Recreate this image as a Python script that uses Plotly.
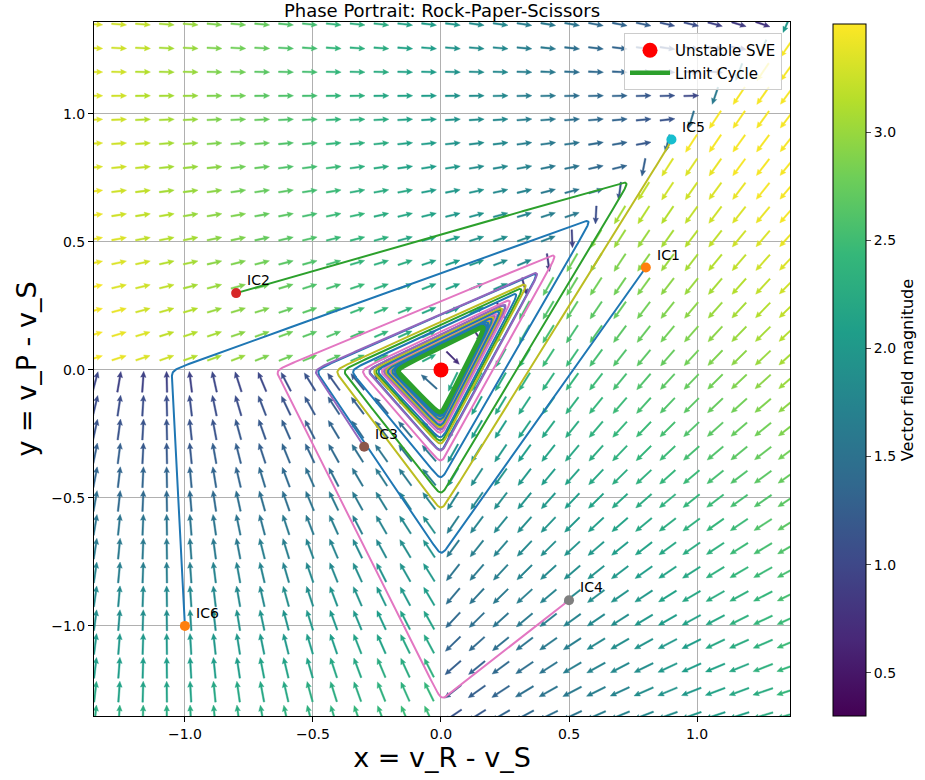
import numpy as np
import plotly.graph_objects as go
from plotly.colors import sample_colorscale, get_colorscale

# ---------------- values ----------------
ic_labels = ["IC1", "IC2", "IC3", "IC4", "IC5", "IC6"]
ic_x = [0.8, -0.8, -0.3, 0.5, 0.9, -1.0]
ic_y = [0.4, 0.3, -0.3, -0.9, 0.9, -1.0]
traj_colors = ["#1f77b4", "#2ca02c", "#9467bd", "#e377c2", "#bcbd22", "#1f77b4"]
marker_colors = ["#ff7f0e", "#d62728", "#8c564b", "#7f7f7f", "#17becf", "#ff7f0e"]
sve_x = [0.0]
sve_y = [0.0]
axis_ticks = [-1.0, -0.5, 0.0, 0.5, 1.0]
axis_ticktext = ["\u22121.0", "\u22120.5", "0.0", "0.5", "1.0"]
cbar_ticks = [0.5, 1.0, 1.5, 2.0, 2.5, 3.0]
cbar_range = [0.30, 3.50]
x_range = [-1.355, 1.363]
y_range = [-1.352, 1.359]

# game (rows / cols: R, P, S) and learning model parameters
payoff_win = 1.0
payoff_loss = -1.0
payoff_tie = 0.10
temperature = 0.007
quiver_n = 30
quiver_lim = 1.35
t_end = 30.0
dt = 0.003

A = np.array([[payoff_tie, payoff_win, payoff_loss],
              [payoff_loss, payoff_tie, payoff_win],
              [payoff_win, payoff_loss, payoff_tie]])


def policy(x, y, tau=temperature):
    v = np.stack([x, y, np.zeros_like(x)], axis=-1) / tau
    v = v - v.max(axis=-1, keepdims=True)
    e = np.exp(v)
    return e / e.sum(axis=-1, keepdims=True)


def field(x, y, tau=temperature):
    x = np.asarray(x, float)
    y = np.asarray(y, float)
    u = policy(x, y, tau) @ A.T
    return u[..., 0] - u[..., 2] - x, u[..., 1] - u[..., 2] - y


def integrate(x0, y0, t1, tau=temperature):
    x = np.array(x0, float)
    y = np.array(y0, float)
    n = int(round(t1 / dt))
    xs = [x.copy()]
    ys = [y.copy()]
    for _ in range(n):
        k1x, k1y = field(x, y, tau)
        k2x, k2y = field(x + 0.5 * dt * k1x, y + 0.5 * dt * k1y, tau)
        k3x, k3y = field(x + 0.5 * dt * k2x, y + 0.5 * dt * k2y, tau)
        k4x, k4y = field(x + dt * k3x, y + dt * k3y, tau)
        x = x + dt / 6 * (k1x + 2 * k2x + 2 * k3x + k4x)
        y = y + dt / 6 * (k1y + 2 * k2y + 2 * k3y + k4y)
        xs.append(x.copy())
        ys.append(y.copy())
    return np.array(xs), np.array(ys)


# plot-area geometry (pixels)
W, H = 925, 780
ml, mr, mt, mb = 94, 135, 22, 64
pw, ph = W - ml - mr, H - mt - mb
sx = pw / (x_range[1] - x_range[0])
sy = ph / (y_range[1] - y_range[0])

fig = go.Figure()

# colorbar carrier
fig.add_trace(go.Scatter(
    x=[0], y=[0], mode="markers", hoverinfo="skip", showlegend=False,
    marker=dict(size=1, opacity=0, color=[1.0], colorscale="Viridis",
                cmin=cbar_range[0], cmax=cbar_range[1], showscale=True,
                colorbar=dict(x=(833 - ml) / pw, xanchor="left", xref="paper", xpad=0,
                              y=1 - (24 - mt) / ph, yanchor="top", ypad=0,
                              len=692 / ph, lenmode="fraction",
                              thickness=33, outlinewidth=1, outlinecolor="black",
                              ticks="outside", ticklen=5, tickvals=cbar_ticks,
                              ticktext=[f"{t:.1f}" for t in cbar_ticks],
                              tickfont=dict(size=14, color="black"),
                              title=dict(text="Vector field magnitude", side="right",
                                         font=dict(size=16, color="black"))))))

# ---------------- quiver ----------------
g = np.linspace(-quiver_lim, quiver_lim, quiver_n)
X, Y = np.meshgrid(g, g)
U, V = field(X, Y)
M = np.hypot(U, V)
sigP = policy(X, Y)[..., 1].ravel()
dxu, dyu = (U / M).ravel(), (V / M).ravel()
cx, cy = X.ravel(), Y.ravel()
L = (21.0 - 6.0 * sigP)[:, None]
hw, hl, hal, hhw = 0.8, 6.0, 5.4, 2.7
zero = np.zeros_like(L)
along = np.hstack([-L / 2, L / 2 - hal, L / 2 - hl, L / 2, L / 2 - hl, L / 2 - hal, -L / 2])
across = np.array([hw, hw, hhw, 0.0, -hhw, -hw, -hw])[None, :] + zero
nxu, nyu = -dyu, dxu
px = cx[:, None] + (along * dxu[:, None] + across * nxu[:, None]) / sx
py = cy[:, None] + (along * dyu[:, None] + across * nyu[:, None]) / sy

nb = 48
tnorm = (np.clip(M.ravel(), *cbar_range) - cbar_range[0]) / (cbar_range[1] - cbar_range[0])
bins = np.minimum((tnorm * nb).astype(int), nb - 1)
vir = get_colorscale("Viridis")
for b in range(nb):
    idx = np.where(bins == b)[0]
    if idx.size == 0:
        continue
    col = sample_colorscale(vir, [(b + 0.5) / nb])[0]
    xs, ys = [], []
    for i in idx:
        xs.extend(px[i].tolist() + [px[i][0], None])
        ys.extend(py[i].tolist() + [py[i][0], None])
    fig.add_trace(go.Scatter(x=xs, y=ys, mode="lines", fill="toself", fillcolor=col,
                             line=dict(width=0.4, color=col), hoverinfo="skip",
                             showlegend=False))

# ---------------- trajectories ----------------
TX, TY = integrate(ic_x, ic_y, t_end)
for k in range(len(ic_x)):
    fig.add_trace(go.Scatter(x=TX[:, k], y=TY[:, k], mode="lines",
                             line=dict(color=traj_colors[k], width=2),
                             hoverinfo="skip", showlegend=False))
for k in range(len(ic_x)):
    fig.add_trace(go.Scatter(x=[ic_x[k]], y=[ic_y[k]], mode="markers",
                             marker=dict(color=marker_colors[k], size=10),
                             hoverinfo="skip", showlegend=False))
    fig.add_annotation(x=ic_x[k] + 0.035, y=ic_y[k] + 0.05, text=ic_labels[k],
                       showarrow=False, xanchor="left", yanchor="middle",
                       font=dict(size=14, color="black"))

# ---------------- limit cycle ----------------
LX, LY = integrate([0.1], [0.05], 50.0)
keep = int(round(3.0 / dt))
lcx, lcy = LX[-keep:, 0], LY[-keep:, 0]
fig.add_trace(go.Scatter(x=lcx, y=lcy, mode="lines", name="Limit Cycle",
                         line=dict(color="#2ca02c", width=4.5), legendrank=2,
                         hoverinfo="skip"))
fig.add_trace(go.Scatter(x=sve_x, y=sve_y, mode="markers", name="Unstable SVE",
                         marker=dict(color="red", size=15), legendrank=1,
                         hoverinfo="skip"))

axis_common = dict(showgrid=True, gridcolor="#b0b0b0", gridwidth=1, zeroline=False,
                   showline=True, linecolor="black", linewidth=1, mirror=True,
                   ticks="outside", ticklen=5, tickcolor="black",
                   tickvals=axis_ticks, ticktext=axis_ticktext,
                   tickfont=dict(size=14, color="black"))
fig.update_layout(
    width=W, height=H,
    margin=dict(l=ml, r=mr, t=mt, b=mb, autoexpand=False),
    paper_bgcolor="white", plot_bgcolor="white",
    font=dict(family="DejaVu Sans", color="black"),
    title=dict(text="Phase Portrait: Rock-Paper-Scissors", x=0.5, xref="paper",
               xanchor="center", y=1 - 11 / H, yref="container", yanchor="middle",
               font=dict(size=18, color="black")),
    xaxis=dict(range=x_range, title=dict(text="x = v_R - v_S", font=dict(size=27), standoff=6),
               **axis_common),
    yaxis=dict(range=y_range, title=dict(text="y = v_P - v_S", font=dict(size=27), standoff=6),
               **axis_common),
    legend=dict(x=(782 - ml) / pw, y=1 - (33 - mt) / ph, xanchor="right", yanchor="top",
                bgcolor="rgba(255,255,255,0.8)", bordercolor="#cccccc", borderwidth=1,
                font=dict(size=15, color="black"), itemwidth=40),
    showlegend=True,
)
fig.write_html("out.html", config={"displayModeBar": False},
               post_script="document.body.style.margin='0px';")
